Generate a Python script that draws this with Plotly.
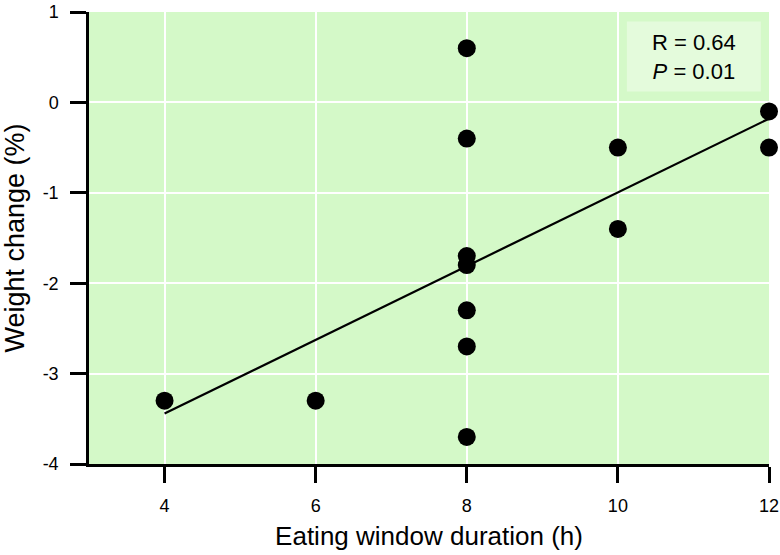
import numpy as np
import plotly.graph_objects as go

eating_window_h = [4, 6, 8, 8, 8, 8, 8, 8, 8, 10, 10, 12, 12]
weight_change_pct = [-3.3, -3.3, 0.6, -0.4, -1.7, -1.8, -2.3, -2.7, -3.7, -0.5, -1.4, -0.1, -0.5]
x_ticks = [4, 6, 8, 10, 12]
y_ticks = [1, 0, -1, -2, -3, -4]
y_tick_labels = ["1", "0", "-1", "-2", "-3", "-4"]
stats_text = "R = 0.64<br><i>P</i> = 0.01"

slope, intercept = np.polyfit(eating_window_h, weight_change_pct, 1)
fit_x = [min(eating_window_h), max(eating_window_h)]
fit_y = [slope * v + intercept for v in fit_x]

font = "Liberation Sans, Arial, sans-serif"

fig = go.Figure()
fig.add_trace(go.Scatter(x=fit_x, y=fit_y, mode="lines",
                         line=dict(color="black", width=2.2), showlegend=False))
fig.add_trace(go.Scatter(x=eating_window_h, y=weight_change_pct, mode="markers",
                         marker=dict(color="black", size=18), showlegend=False,
                         cliponaxis=False))

axis_common = dict(ticks="outside", ticklen=16, tickwidth=2.5, tickcolor="black",
                   showline=True, linecolor="black", linewidth=2.5,
                   showgrid=True, gridcolor="white", gridwidth=2,
                   zeroline=False, tickfont=dict(size=18), automargin=False,
                   ticklabelstandoff=8)

fig.update_layout(
    width=780, height=555,
    margin=dict(l=89, r=11, t=12, b=91),
    paper_bgcolor="white",
    plot_bgcolor="#d4f9c8",
    font=dict(family=font, color="black", size=18),
    xaxis=dict(range=[3, 12], tickvals=x_ticks,
               title=dict(text="Eating window duration (h)", font=dict(size=26), standoff=12),
               **axis_common),
    yaxis=dict(range=[-4, 1], tickvals=y_ticks, ticktext=y_tick_labels,
               title=dict(text="Weight change (%)", font=dict(size=27), standoff=14),
               **axis_common),
    shapes=[dict(type="rect", xref="paper", yref="paper",
                 x0=0.791, x1=0.988, y0=0.824, y1=0.979,
                 fillcolor="#e4fbdc", line=dict(width=0), layer="above")],
    annotations=[dict(text=stats_text, xref="paper", yref="paper", x=0.8896, y=0.901,
                      xanchor="center", yanchor="middle", showarrow=False,
                      align="center",
                      font=dict(size=22, family=font, color="black"))],
)

fig.write_html("out.html", config={"displayModeBar": False},
               post_script="document.body.style.margin='0';")
